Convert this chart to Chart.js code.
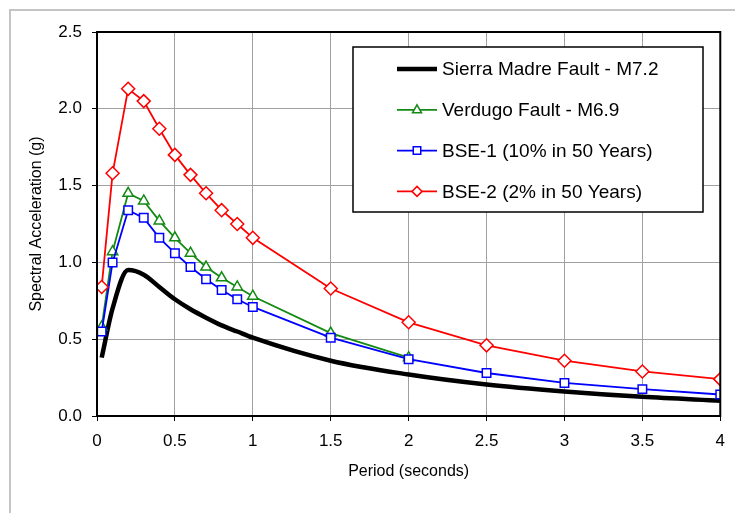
<!DOCTYPE html>
<html lang="en">

<head>
    <meta charset="UTF-8">
    <title>Response Spectra</title>
    <script src="https://cdn.jsdelivr.net/npm/chart.js@4.4.0/dist/chart.umd.min.js"></script>
    <style>
        body { margin: 0; background: #fff; }
        canvas { display: block; }
    </style>
</head>

<body>
    <canvas id="spectraChart" width="735" height="513"></canvas>

    <script>
        // periods (s) used by every curve
        const periods = [0.03, 0.1, 0.2, 0.3, 0.4, 0.5, 0.6, 0.7, 0.8, 0.9, 1.0, 1.5, 2.0, 2.5, 3.0, 3.5, 4.0];

        // spectral acceleration (g)
        const sierraMadre = [0.38, 0.70, 0.95, 0.92, 0.84, 0.76, 0.695, 0.64, 0.59, 0.55, 0.51, 0.36, 0.27, 0.205, 0.16, 0.125, 0.10];
        const verdugo = [0.58, 1.07, 1.45, 1.40, 1.27, 1.16, 1.06, 0.97, 0.90, 0.84, 0.78, 0.54, 0.38];
        const bse1 = [0.55, 1.00, 1.34, 1.29, 1.16, 1.06, 0.97, 0.89, 0.82, 0.76, 0.71, 0.51, 0.37, 0.28, 0.215, 0.175, 0.14];
        const bse2 = [0.84, 1.58, 2.13, 2.05, 1.87, 1.70, 1.57, 1.45, 1.34, 1.25, 1.16, 0.83, 0.61, 0.46, 0.36, 0.29, 0.24];

        const seriesNames = ['Sierra Madre Fault - M7.2', 'Verdugo Fault - M6.9', 'BSE-1 (10% in 50 Years)', 'BSE-2 (2% in 50 Years)'];
        const xTicks = [0, 0.5, 1, 1.5, 2, 2.5, 3, 3.5, 4];
        const yTicks = [0, 0.5, 1.0, 1.5, 2.0, 2.5];

        const FONT = '"Liberation Sans", Arial, sans-serif';

        function toPoints(values) {
            return values.map((v, i) => ({ x: periods[i], y: v }));
        }

        function drawMarker(ctx, style, x, y, r) {
            ctx.beginPath();
            if (style === 'triangle') {
                ctx.moveTo(x, y - r);
                ctx.lineTo(x + r * 0.9, y + r * 0.6);
                ctx.lineTo(x - r * 0.9, y + r * 0.6);
                ctx.closePath();
            } else if (style === 'rect') {
                ctx.rect(x - r * 0.75, y - r * 0.75, r * 1.5, r * 1.5);
            } else if (style === 'rectRot') {
                ctx.moveTo(x, y - r);
                ctx.lineTo(x + r, y);
                ctx.lineTo(x, y + r);
                ctx.lineTo(x - r, y);
                ctx.closePath();
            }
            ctx.fill();
            ctx.stroke();
        }

        // outer frame, plot frame and the boxed legend
        const framePlugin = {
            id: 'frame',
            beforeDraw(chart) {
                const ctx = chart.ctx;
                ctx.save();
                ctx.fillStyle = '#fff';
                ctx.fillRect(0, 0, chart.width, chart.height);
                ctx.strokeStyle = '#c4c4c4';
                ctx.lineWidth = 2;
                ctx.beginPath();
                ctx.moveTo(10, chart.height);
                ctx.lineTo(10, 10);
                ctx.lineTo(chart.width, 10);
                ctx.stroke();
                ctx.restore();
            },
            afterDraw(chart) {
                const ctx = chart.ctx;
                const a = chart.chartArea;
                ctx.save();
                ctx.strokeStyle = '#000';
                ctx.lineWidth = 2;
                ctx.strokeRect(a.left, a.top, a.right - a.left, a.bottom - a.top);

                // legend
                ctx.fillStyle = '#fff';
                ctx.lineWidth = 1.5;
                ctx.fillRect(353, 47, 350, 165);
                ctx.strokeRect(353, 47, 350, 165);

                ctx.font = '19px ' + FONT;
                ctx.textBaseline = 'middle';
                chart.data.datasets.forEach((ds, i) => {
                    const y = 69 + i * 40.8;
                    ctx.strokeStyle = ds.borderColor;
                    ctx.lineWidth = ds.legendLineWidth;
                    ctx.beginPath();
                    ctx.moveTo(397, y);
                    ctx.lineTo(437, y);
                    ctx.stroke();
                    if (ds.pointRadius > 0) {
                        ctx.fillStyle = '#fff';
                        ctx.lineWidth = 1.5;
                        drawMarker(ctx, ds.pointStyle, 417, y, 5);
                    }
                    ctx.fillStyle = '#000';
                    ctx.fillText(ds.label, 442, y + 1);
                });
                ctx.restore();
            }
        };

        const ctx = document.getElementById('spectraChart').getContext('2d');
        new Chart(ctx, {
            type: 'line',
            data: {
                datasets: [{
                    label: seriesNames[0],
                    data: toPoints(sierraMadre),
                    borderColor: '#000000',
                    borderWidth: 4.5,
                    legendLineWidth: 4.5,
                    pointRadius: 0,
                    cubicInterpolationMode: 'monotone',
                    order: 4
                }, {
                    label: seriesNames[1],
                    data: toPoints(verdugo),
                    borderColor: '#138a13',
                    backgroundColor: '#fff',
                    borderWidth: 1.8,
                    legendLineWidth: 1.8,
                    pointStyle: 'triangle',
                    pointRadius: 6,
                    pointBorderWidth: 1.5,
                    tension: 0,
                    order: 3
                }, {
                    label: seriesNames[2],
                    data: toPoints(bse1),
                    borderColor: '#0000ff',
                    backgroundColor: '#fff',
                    borderWidth: 1.8,
                    legendLineWidth: 1.8,
                    pointStyle: 'rect',
                    pointRadius: 6,
                    pointBorderWidth: 1.5,
                    tension: 0,
                    order: 2
                }, {
                    label: seriesNames[3],
                    data: toPoints(bse2),
                    borderColor: '#ff0000',
                    backgroundColor: '#fff',
                    borderWidth: 1.8,
                    legendLineWidth: 1.8,
                    pointStyle: 'rectRot',
                    pointRadius: 6.5,
                    pointBorderWidth: 1.5,
                    tension: 0,
                    order: 1
                }]
            },
            options: {
                responsive: false,
                animation: false,
                layout: { padding: { top: 32, right: 14, left: 0, bottom: 0 } },
                plugins: {
                    legend: { display: false },
                    tooltip: { enabled: false }
                },
                scales: {
                    x: {
                        type: 'linear',
                        min: 0,
                        max: 4,
                        afterFit: (scale) => { scale.height = 97; },
                        afterBuildTicks: (scale) => { scale.ticks = xTicks.map(v => ({ value: v })); },
                        ticks: {
                            color: '#000',
                            padding: 10,
                            maxRotation: 0,
                            font: { family: FONT, size: 17 },
                            callback: (v) => String(v)
                        },
                        grid: { color: '#a0a0a0', lineWidth: 1, tickColor: '#000', tickLength: 5 },
                        border: { color: '#000', width: 2 },
                        title: {
                            display: true,
                            text: 'Period (seconds)',
                            color: '#000',
                            font: { family: FONT, size: 16 },
                            padding: { top: 0, bottom: 32 }
                        }
                    },
                    y: {
                        type: 'linear',
                        min: 0,
                        max: 2.5,
                        afterFit: (scale) => { scale.width = 97; },
                        afterBuildTicks: (scale) => { scale.ticks = yTicks.map(v => ({ value: v })); },
                        ticks: {
                            color: '#000',
                            padding: 10,
                            font: { family: FONT, size: 17 },
                            callback: (v) => v.toFixed(1)
                        },
                        grid: { color: '#a0a0a0', lineWidth: 1, tickColor: '#000', tickLength: 5 },
                        border: { color: '#000', width: 2 },
                        title: {
                            display: true,
                            text: 'Spectral Acceleration (g)',
                            color: '#000',
                            font: { family: FONT, size: 16 },
                            padding: { top: 27, bottom: 0 }
                        }
                    }
                }
            },
            plugins: [framePlugin]
        });
    </script>
</body>

</html>
